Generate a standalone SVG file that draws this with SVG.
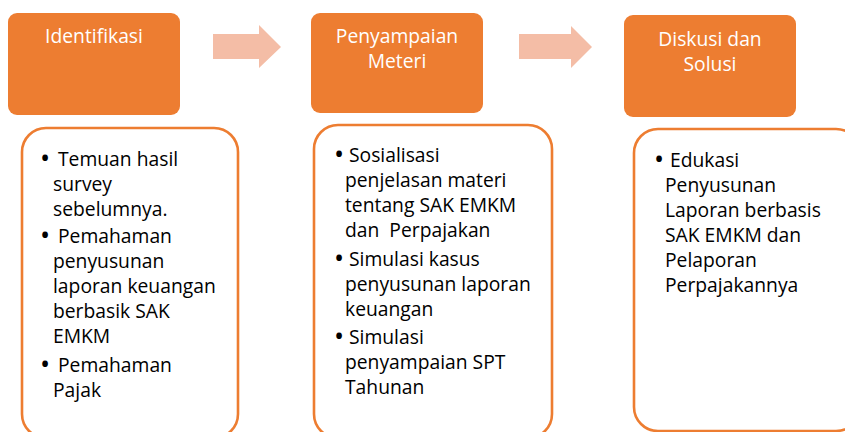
<svg xmlns="http://www.w3.org/2000/svg" width="845" height="432" viewBox="0 0 845 432">
<style>
.hd{fill:#ED7D31;}
.ht{fill:#FFFFFF;font-family:"Open Sans","Noto Sans",sans-serif;font-size:19.3px;text-anchor:middle;}
.bx{fill:#FFFFFF;stroke:#ED7D31;stroke-width:2.6;}
.bt{fill:#000000;font-family:"Open Sans","Noto Sans",sans-serif;font-size:19.3px;}
.bl{fill:#000000;font-family:"Open Sans","Noto Sans",sans-serif;font-size:27px;text-anchor:middle;}
.ar{fill:#F4BDA6;}
</style>
<rect width="845" height="432" fill="#FFFFFF"/>
<g id="connectors">
<polygon class="ar" points="213,34 259,34 259,25 281,47 259,68 259,59 213,59"/>
<polygon class="ar" points="519,34 571,34 571,26 592,47 571,68 571,59 519,59"/>
</g>
<g id="identifikasi">
<rect class="hd" x="8" y="13" width="172" height="102" rx="9"/>
<text class="ht" x="94" y="43">Identifikasi</text>
</g>
<g id="penyampaian">
<rect class="hd" x="311" y="13" width="172" height="100" rx="9"/>
<text class="ht" x="397" y="43">Penyampaian</text>
<text class="ht" x="397" y="68">Meteri</text>
</g>
<g id="diskusi">
<rect class="hd" x="624" y="15" width="172" height="102" rx="9"/>
<text class="ht" x="710" y="46">Diskusi dan</text>
<text class="ht" x="710" y="71">Solusi</text>
</g>
<g id="box-identifikasi">
<rect class="bx" x="22" y="128" width="216" height="310" rx="24"/>
<text class="bl" x="45" y="168">•</text>
<text class="bt" x="58" y="166">Temuan hasil</text>
<text class="bt" x="53" y="191">survey</text>
<text class="bt" x="53" y="216">sebelumnya.</text>
<text class="bl" x="45" y="245">•</text>
<text class="bt" x="58" y="243">Pemahaman</text>
<text class="bt" x="53" y="268">penyusunan</text>
<text class="bt" x="53" y="293">laporan keuangan</text>
<text class="bt" x="53" y="318">berbasik SAK</text>
<text class="bt" x="53" y="343">EMKM</text>
<text class="bl" x="45" y="374">•</text>
<text class="bt" x="58" y="372">Pemahaman</text>
<text class="bt" x="53" y="397">Pajak</text>
</g>
<g id="box-penyampaian">
<rect class="bx" x="314" y="125" width="238" height="313" rx="24"/>
<text class="bl" x="339" y="164">•</text>
<text class="bt" x="349" y="162">Sosialisasi</text>
<text class="bt" x="345" y="187">penjelasan materi</text>
<text class="bt" x="345" y="212">tentang SAK EMKM</text>
<text class="bt" x="345" y="237" xml:space="preserve">dan  Perpajakan</text>
<text class="bl" x="339" y="268">•</text>
<text class="bt" x="349" y="266">Simulasi kasus</text>
<text class="bt" x="345" y="291">penyusunan laporan</text>
<text class="bt" x="345" y="316">keuangan</text>
<text class="bl" x="339" y="346">•</text>
<text class="bt" x="349" y="344">Simulasi</text>
<text class="bt" x="345" y="369">penyampaian SPT</text>
<text class="bt" x="345" y="394">Tahunan</text>
</g>
<g id="box-diskusi">
<rect class="bx" x="634" y="129" width="226" height="302" rx="24"/>
<text class="bl" x="659" y="169">•</text>
<text class="bt" x="670" y="167">Edukasi</text>
<text class="bt" x="665" y="192">Penyusunan</text>
<text class="bt" x="665" y="217">Laporan berbasis</text>
<text class="bt" x="665" y="242">SAK EMKM dan</text>
<text class="bt" x="665" y="267">Pelaporan</text>
<text class="bt" x="665" y="292">Perpajakannya</text>
</g>
</svg>
